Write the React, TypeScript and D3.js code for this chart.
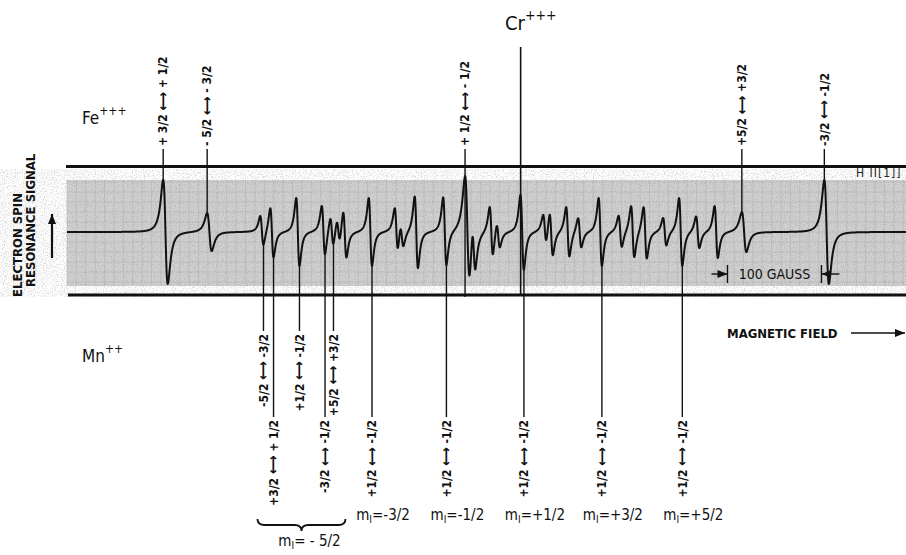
import React, { useEffect, useRef } from 'react';
import * as d3 from 'd3';

const WIDTH = 906;
const HEIGHT = 555;
const FIELD_MAX = 893; // gauss across the chart paper
const FE_WIDTH = 4.2;
const LINE_WIDTH = 3;
const FONT = "'Liberation Sans Narrow', 'DejaVu Sans Condensed', 'Roboto Condensed', 'Arial Narrow', sans-serif";

// Fe+++ fine-structure lines (field in gauss, amp in signal units)
const feLines = [
  { field: 104.8, amp: 52, label: '+ 3/2 \u2194 + 1/2', through: false },
  { field: 151.6, amp: 19, label: '- 5/2 \u2194 - 3/2', through: false },
  { field: 426.1, amp: 54, label: '+ 1/2 \u2194 - 1/2', through: true },
  { field: 720.7, amp: 20, label: '+5/2 \u2194 +3/2', through: false },
  { field: 808.5, amp: 52, label: '-3/2 \u2194 -1/2', through: false },
];

const crLines = [{ field: 483.5, amp: 6 }];

// Mn++ hyperfine / fine-structure lines
const mnLines = [
  { field: 207.4, amp: 15 }, { field: 218.1, amp: 25 }, { field: 245.7, amp: 34 },
  { field: 272.9, amp: 25 }, { field: 281.9, amp: 15 }, { field: 288.8, amp: 12 },
  { field: 295.7, amp: 24 }, { field: 322.9, amp: 34 }, { field: 350.5, amp: 22 },
  { field: 356.4, amp: 12 }, { field: 371.8, amp: 36 }, { field: 402.1, amp: 34 },
  { field: 433.0, amp: 25 }, { field: 451.6, amp: 25 }, { field: 459.0, amp: 13 },
  { field: 484.6, amp: 33 }, { field: 508.5, amp: 15 }, { field: 515.4, amp: 22 },
  { field: 533.0, amp: 25 }, { field: 545.7, amp: 15 }, { field: 567.6, amp: 34 },
  { field: 588.8, amp: 16 }, { field: 602.1, amp: 26 }, { field: 615.4, amp: 26 },
  { field: 636.2, amp: 14 }, { field: 653.2, amp: 34 }, { field: 671.3, amp: 16 },
  { field: 691.0, amp: 26 },
];

// labelled Mn++ transitions (row 0 = short lead, row 1 = long lead)
const mnMarks = [
  { field: 207.4, label: '-5/2 \u2194 -3/2', row: 0 },
  { field: 218.1, label: '+3/2 \u2194 + 1/2', row: 1 },
  { field: 245.7, label: '+1/2 \u2194 -1/2', row: 0 },
  { field: 272.9, label: '-3/2 \u2194 -1/2', row: 1 },
  { field: 281.9, label: '+5/2 \u2194 +3/2', row: 0 },
  { field: 322.9, label: '+1/2 \u2194 -1/2', row: 1 },
  { field: 402.1, label: '+1/2 \u2194 -1/2', row: 1 },
  { field: 484.6, label: '+1/2 \u2194 -1/2', row: 1 },
  { field: 567.6, label: '+1/2 \u2194 -1/2', row: 1 },
  { field: 653.2, label: '+1/2 \u2194 -1/2', row: 1 },
];

const mIGroups = [
  { value: '-5/2', from: 207.4, to: 281.9, brace: true },
  { value: '-3/2', from: 322.9, to: 322.9, brace: false },
  { value: '-1/2', from: 402.1, to: 402.1, brace: false },
  { value: '+1/2', from: 484.6, to: 484.6, brace: false },
  { value: '+3/2', from: 567.6, to: 567.6, brace: false },
  { value: '+5/2', from: 653.2, to: 653.2, brace: false },
];

const scaleBar = { from: 703, length: 100, label: '100 GAUSS' };

const EsrChart: React.FC = () => {
  const svgRef = useRef<SVGSVGElement>(null);

  useEffect(() => {
    if (!svgRef.current) return;
    const svg = d3.select(svgRef.current);
    svg.selectAll('*').remove();

    const x = d3.scaleLinear().domain([0, FIELD_MAX]).range([67, WIDTH]);
    const y = d3.scaleLinear().domain([-60, 60]).range([292, 172]);

    const allLines = [
      ...feLines.map(d => ({ field: d.field, amp: d.amp, w: FE_WIDTH })),
      ...crLines.map(d => ({ field: d.field, amp: d.amp, w: LINE_WIDTH })),
      ...mnLines.map(d => ({ field: d.field, amp: d.amp, w: LINE_WIDTH })),
    ];
    // first derivative of a Lorentzian, normalised to a peak of 1
    const shape = (u: number) => (-2 * u) / Math.pow(1 + u * u, 2) / 0.6495;
    const signal = (b: number) => d3.sum(allLines, l => l.amp * shape((b - l.field) / l.w));
    const trace = d3.range(0, FIELD_MAX + 0.1, 0.15).map(b => [b, signal(b)] as [number, number]);
    const peakOf = (f: number, w: number) => d3.max(d3.range(f - w, f, 0.1), signal) || 0;
    const troughOf = (f: number, w: number) => d3.min(d3.range(f, f + w, 0.1), signal) || 0;
    const off = (w: number) => w / Math.sqrt(3);

    const defs = svg.append('defs');
    defs.append('marker')
      .attr('id', 'arrow').attr('viewBox', '0 0 10 8')
      .attr('refX', 10).attr('refY', 4)
      .attr('markerWidth', 10).attr('markerHeight', 8)
      .attr('markerUnits', 'userSpaceOnUse')
      .attr('orient', 'auto')
      .append('path').attr('d', 'M0,0 L10,4 L0,8 Z').attr('fill', '#111');
    const filt = defs.append('filter').attr('id', 'paper');
    filt.append('feTurbulence').attr('type', 'fractalNoise').attr('baseFrequency', 0.9)
      .attr('numOctaves', 2).attr('seed', 4);
    filt.append('feColorMatrix').attr('type', 'matrix')
      .attr('values', '0 0 0 0 0.35  0 0 0 0 0.35  0 0 0 0 0.35  2.2 0 0 0 -1.0');

    // chart paper band
    const band = svg.append('g');
    band.append('rect').attr('x', 67).attr('y', 180).attr('width', WIDTH - 67).attr('height', 106)
      .attr('fill', '#d0d0d0');
    band.selectAll('line.v').data(d3.range(0, FIELD_MAX, 10)).join('line')
      .attr('x1', d => x(d)).attr('x2', d => x(d)).attr('y1', 180).attr('y2', 286)
      .attr('stroke', '#b5b5b5').attr('stroke-width', 0.6);
    band.selectAll('line.h').data(d3.range(-50, 51, 10)).join('line')
      .attr('x1', 67).attr('x2', WIDTH).attr('y1', d => y(d)).attr('y2', d => y(d))
      .attr('stroke', '#b5b5b5').attr('stroke-width', 0.6);
    band.append('rect').attr('x', 67).attr('y', 180).attr('width', WIDTH - 67).attr('height', 106)
      .attr('filter', 'url(#paper)').attr('opacity', 0.6);
    band.append('text').attr('x', 856).attr('y', 177).text('H II[1]]')
      .attr('font-family', FONT).attr('font-size', 12).attr('letter-spacing', 1)
      .attr('fill', '#222');

    // recorder rules
    svg.append('line').attr('x1', 66).attr('x2', WIDTH).attr('y1', 166.5).attr('y2', 166.5)
      .attr('stroke', '#111').attr('stroke-width', 3);
    svg.append('line').attr('x1', 68).attr('x2', WIDTH).attr('y1', 295).attr('y2', 295)
      .attr('stroke', '#111').attr('stroke-width', 3);

    // trace
    const line = d3.line<[number, number]>().x(d => x(d[0])).y(d => y(d[1]));
    svg.append('path').attr('d', line(trace) || '')
      .attr('fill', 'none').attr('stroke', '#111').attr('stroke-width', 2)
      .attr('stroke-linejoin', 'round');

    // rotated transition label; the double arrow is drawn larger like the original lettering
    const vText = (g: d3.Selection<SVGGElement, unknown, null, undefined>, px: number, py: number,
      label: string, anchor: string, size: number) => {
      const t = g.append('text').attr('transform', `translate(${px},${py}) rotate(-90)`)
        .attr('text-anchor', anchor).attr('dy', '0.35em')
        .attr('font-family', FONT).attr('font-size', size).attr('font-weight', 'bold')
        .attr('fill', '#111');
      const parts = label.split('\u2194');
      t.append('tspan').text(parts[0]);
      if (parts.length > 1) {
        t.append('tspan').attr('font-size', size * 1.2).attr('dy', '0.04em').text('\u27F7');
        t.append('tspan').attr('dy', '-0.04em').text(parts[1]);
      }
      return t;
    };

    // Fe marks
    const fe = svg.append('g');
    feLines.forEach(d => {
      const px = x(d.field - off(FE_WIDTH));
      const end = d.through ? 297 : y(peakOf(d.field, FE_WIDTH));
      fe.append('line').attr('x1', px).attr('x2', px).attr('y1', 149).attr('y2', end)
        .attr('stroke', '#111').attr('stroke-width', 1.4);
      vText(fe, px, 146, d.label, 'start', 12);
    });
    fe.append('text').attr('x', 82).attr('y', 124).attr('font-family', FONT).attr('font-size', 17)
      .attr('fill', '#111')
      .call(t => { t.append('tspan').text('Fe'); t.append('tspan').attr('dy', -9).attr('font-size', 12).text('+++'); });

    // Cr marks
    crLines.forEach(d => {
      const px = x(d.field - off(LINE_WIDTH)) + 1;
      svg.append('line').attr('x1', px).attr('x2', px).attr('y1', 47).attr('y2', 295)
        .attr('stroke', '#111').attr('stroke-width', 1.6);
    });
    svg.append('text').attr('x', 505).attr('y', 30).attr('font-family', FONT).attr('font-size', 20)
      .attr('fill', '#111')
      .call(t => { t.append('tspan').text('Cr'); t.append('tspan').attr('dy', -10).attr('font-size', 14).text('+++'); });

    // Mn marks
    const mn = svg.append('g');
    const rowEnd = [331, 417];
    mnMarks.forEach(d => {
      const px = x(d.field + off(LINE_WIDTH));
      const start = y(troughOf(d.field, LINE_WIDTH));
      mn.append('line').attr('x1', px).attr('x2', px).attr('y1', start).attr('y2', rowEnd[d.row])
        .attr('stroke', '#111').attr('stroke-width', 1.4);
      vText(mn, px, rowEnd[d.row] + 3, d.label, 'end', 12);
    });
    mn.append('text').attr('x', 82).attr('y', 362).attr('font-family', FONT).attr('font-size', 17)
      .attr('fill', '#111')
      .call(t => { t.append('tspan').text('Mn'); t.append('tspan').attr('dy', -9).attr('font-size', 12).text('++'); });

    const mILabel = (px: number, py: number, value: string) =>
      mn.append('text').attr('x', px).attr('y', py).attr('text-anchor', 'middle')
        .attr('font-family', FONT).attr('font-size', 15).attr('fill', '#111')
        .call(t => {
          t.append('tspan').text('m');
          t.append('tspan').attr('dy', 3).attr('font-size', 10).text('I');
          t.append('tspan').attr('dy', -3).text('=' + value);
        });

    mIGroups.forEach(g => {
      const a = x(g.from + off(LINE_WIDTH));
      const b = x(g.to + off(LINE_WIDTH));
      if (g.brace) {
        const x0 = a - 6, x1 = b + 12, xm = (x0 + x1) / 2;
        const y0 = 519, y1 = 525, y2 = 531, q = 7;
        const p = `M${x0},${y0} Q${x0},${y1} ${x0 + q},${y1} L${xm - q},${y1} Q${xm},${y1} ${xm},${y2} ` +
          `Q${xm},${y1} ${xm + q},${y1} L${x1 - q},${y1} Q${x1},${y1} ${x1},${y0}`;
        mn.append('path').attr('d', p).attr('fill', 'none').attr('stroke', '#111').attr('stroke-width', 1.8);
        mILabel(xm + 8, 546, ' ' + g.value.replace('-', '- '));
      } else {
        mILabel(a + 11, 520, g.value);
      }
    });

    // y-axis caption
    const axis = svg.append('g');
    const cap = (px: number, py: number, label: string) =>
      axis.append('text').attr('transform', `translate(${px},${py}) rotate(-90)`)
        .attr('dy', '0.35em').attr('font-family', FONT).attr('font-size', 13)
        .attr('font-weight', 'bold').attr('fill', '#111').text(label);
    cap(17, 297, 'ELECTRON SPIN');
    cap(30, 287, 'RESONANCE SIGNAL');
    axis.append('line').attr('x1', 52).attr('x2', 52).attr('y1', 258).attr('y2', 214)
      .attr('stroke', '#111').attr('stroke-width', 2.2).attr('marker-end', 'url(#arrow)');

    axis.append('text').attr('x', 727).attr('y', 338).attr('font-family', FONT).attr('font-size', 13)
      .attr('font-weight', 'bold').attr('fill', '#111').text('MAGNETIC FIELD');
    axis.append('line').attr('x1', 851).attr('x2', 905).attr('y1', 333).attr('y2', 333)
      .attr('stroke', '#111').attr('stroke-width', 1.6).attr('marker-end', 'url(#arrow)');

    // 100 gauss scale bar
    const sb = svg.append('g');
    const s0 = x(scaleBar.from), s1 = x(scaleBar.from + scaleBar.length);
    [s0, s1].forEach(px => sb.append('line').attr('x1', px).attr('x2', px).attr('y1', 265).attr('y2', 283)
      .attr('stroke', '#111').attr('stroke-width', 1.4));
    sb.append('line').attr('x1', s0 - 16).attr('x2', s0).attr('y1', 274).attr('y2', 274)
      .attr('stroke', '#111').attr('stroke-width', 1.4).attr('marker-end', 'url(#arrow)');
    sb.append('line').attr('x1', s1 + 18).attr('x2', s1).attr('y1', 274).attr('y2', 274)
      .attr('stroke', '#111').attr('stroke-width', 1.4).attr('marker-end', 'url(#arrow)');
    sb.append('text').attr('x', (s0 + s1) / 2).attr('y', 279).attr('text-anchor', 'middle')
      .attr('font-family', FONT).attr('font-size', 14).attr('fill', '#111').text(scaleBar.label);
  }, []);

  return (
    <svg ref={svgRef} width={WIDTH} height={HEIGHT}
      style={{ position: 'absolute', left: 0, top: 0, display: 'block', background: '#fff' }} />
  );
};

export default function App() {
  return <EsrChart />;
}
